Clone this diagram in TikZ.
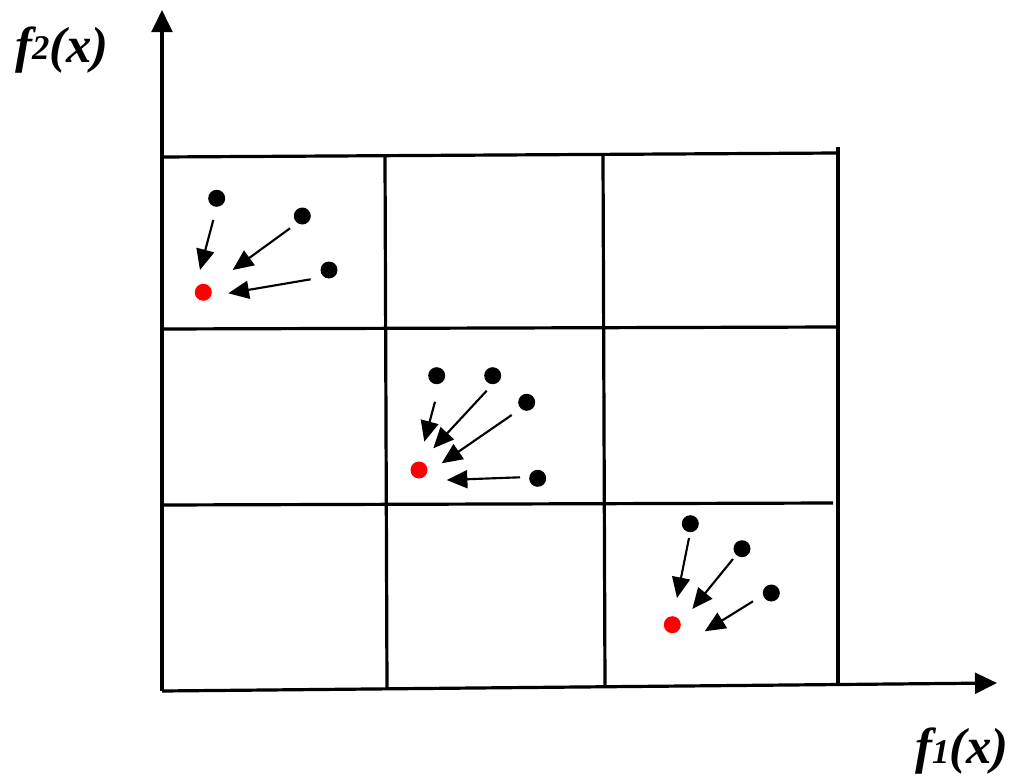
\documentclass[tikz,border=0pt]{standalone}
\usepackage{fontspec}
\setmainfont{Liberation Serif}
\usetikzlibrary{arrows.meta}
\begin{document}
\begin{tikzpicture}[x=0.75pt,y=-0.75pt,
  gridline/.style={line width=2.4pt},
  axisline/.style={line width=2.4pt,-{Triangle[length=16.5pt,width=15.5pt]}},
  moveline/.style={line width=1.6pt,-{Triangle[length=15.5pt,width=13.5pt]}},
  pt/.style={circle,fill=black,inner sep=0pt,minimum size=12.75pt},
  redpt/.style={pt,fill=red},
  lab/.style={font=\fontsize{38}{42}\selectfont\bfseries\itshape,inner sep=0pt}]
\useasboundingbox (0,0) rectangle (1022,778);
% grid
\draw[gridline] (162,157) -- (838,153);
\draw[gridline] (162,329) -- (838,327);
\draw[gridline] (162,505) -- (833,503);
\draw[gridline] (385,157) -- (387,689);
\draw[gridline] (603,155) -- (605,687);
\draw[gridline] (838,147) -- (838,685);
% axes
\coordinate (O) at (162,691);
\coordinate (xend) at (997,683);
\coordinate (yend) at (162,10);
\draw[axisline] (O) -- (xend);
\draw[axisline] (O) -- (yend);
\node[lab,anchor=base west] (ylab) at (15,62) {f{\fontsize{26}{26}\selectfont\raisebox{2pt}{2}}(x)};
\node[lab,anchor=base west] (xlab) at (915,763) {f{\fontsize{26}{26}\selectfont 1}(x)};
% cell 1
\node[pt] (A) at (216.7,198.3) {};
\node[pt] (B) at (302.3,216) {};
\node[pt] (C) at (329,270) {};
\node[redpt] (R1) at (203.3,292.3) {};
\coordinate (As) at (213.3,220); \coordinate (At) at (200,270);
\coordinate (Bs) at (290,228.3); \coordinate (Bt) at (232.7,270);
\coordinate (Cs) at (310.7,279.3); \coordinate (Ct) at (228.3,293.3);
\draw[moveline] (As) -- (At);
\draw[moveline] (Bs) -- (Bt);
\draw[moveline] (Cs) -- (Ct);
% cell 2
\node[pt] (D) at (436.7,375.7) {};
\node[pt] (E) at (492.7,375.7) {};
\node[pt] (F) at (526.7,402.3) {};
\node[pt] (G) at (537.7,478.3) {};
\node[redpt] (R2) at (419,470) {};
\coordinate (Ds) at (435,401.7); \coordinate (Dt) at (424.3,441.7);
\coordinate (Es) at (486.7,390.7); \coordinate (Et) at (433.3,448.3);
\coordinate (Fs) at (511.7,415); \coordinate (Ft) at (441.7,463.3);
\coordinate (Gs) at (520,477.3); \coordinate (Gt) at (446.7,480);
\draw[moveline] (Ds) -- (Dt);
\draw[moveline] (Es) -- (Et);
\draw[moveline] (Fs) -- (Ft);
\draw[moveline] (Gs) -- (Gt);
% cell 3
\node[pt] (H) at (690.3,523.7) {};
\node[pt] (I) at (742,548.7) {};
\node[pt] (J) at (771.3,593) {};
\node[redpt] (R3) at (672.3,624.7) {};
\coordinate (Hs) at (689,538); \coordinate (Ht) at (677,598);
\coordinate (Is) at (733,559); \coordinate (It) at (692.3,609);
\coordinate (Js) at (753,601.3); \coordinate (Jt) at (704.7,631.3);
\draw[moveline] (Hs) -- (Ht);
\draw[moveline] (Is) -- (It);
\draw[moveline] (Js) -- (Jt);
\end{tikzpicture}
\end{document}
